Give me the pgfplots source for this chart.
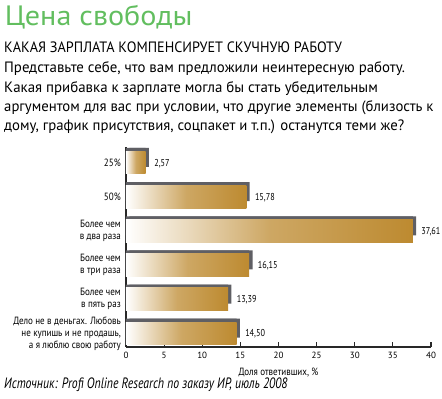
\documentclass[border=0pt]{standalone}
\usepackage{fontspec}
\setmainfont{PT Sans}
\usepackage{graphicx}
\usepackage{pgfplots}
\usepackage{pgfplotstable}
\pgfplotsset{compat=1.18}
\definecolor{gold}{RGB}{189,138,48}
\definecolor{shadowgrey}{RGB}{95,95,100}
\definecolor{titlegreen}{RGB}{98,190,95}
\definecolor{axisgrey}{RGB}{40,40,40}
\newcommand\cond[2][0.86]{\scalebox{#1}[1]{#2}}

\pgfplotstableread{
pos value
5 2.57
4 15.78
3 37.61
2 16.15
1 13.39
0 14.50
}\datatable

\begin{document}
\begin{tikzpicture}
\node[anchor=base west, inner sep=0, text=titlegreen, font=\fontsize{28}{28}\selectfont] at (4.7pt,373pt) {\resizebox{187.6pt}{\height}{Цена свободы}};
\node[anchor=base west, inner sep=0, font=\fontsize{15}{15}\selectfont] at (4pt,346.7pt) {\resizebox{337.7pt}{\height}{КАКАЯ ЗАРПЛАТА КОМПЕНСИРУЕТ СКУЧНУЮ РАБОТУ}};
\node[anchor=base west, inner sep=0, font=\fontsize{15}{15}\selectfont] at (4pt,326.7pt) {\resizebox{400.7pt}{\height}{Представьте себе, что вам предложили неинтересную работу.}};
\node[anchor=base west, inner sep=0, font=\fontsize{15}{15}\selectfont] at (4pt,306.7pt) {\resizebox{373.7pt}{\height}{Какая прибавка к зарплате могла бы стать убедительным}};
\node[anchor=base west, inner sep=0, font=\fontsize{15}{15}\selectfont] at (4pt,287.3pt) {\resizebox{429.3pt}{\height}{аргументом для вас при условии, что другие элементы (близость к}};
\node[anchor=base west, inner sep=0, font=\fontsize{15}{15}\selectfont] at (4pt,268pt) {\resizebox{400pt}{\height}{дому, график присутствия, соцпакет и т.п.) останутся теми же?}};
\node[anchor=base west, inner sep=0, font=\itshape\fontsize{15}{15}\selectfont] at (4pt,10.7pt) {\resizebox{283.3pt}{\height}{Источник: Profi Online Research по заказу ИР, июль 2008}};
\node[anchor=base, inner sep=0, font=\fontsize{10.5}{12}\selectfont] at (278.5pt,23.3pt) {\cond{Доля ответивших, \%}};

\begin{axis}[
  name=ax,
  at={(126pt,52pt)}, anchor=south west,
  scale only axis, width=305pt, height=200pt,
  xmin=0, xmax=40, ymin=-0.40, ymax=5.46,
  axis x line*=bottom, axis y line*=left,
  axis line style={line width=1.3pt, axisgrey},
  xtick={0,5,...,40},
  tick align=inside, major tick length=5pt,
  x tick style={line width=1.1pt, axisgrey},
  y tick style={draw=none},
  ytick={0,1,2,3,4,5},
  yticklabels={{\cond{Дело не в деньгах. Любовь}\\\cond{не купишь и не продашь,}\\\cond{а я люблю свою работу}},{\cond{Более чем}\\\cond{в пять раз}},{\cond{Более чем}\\\cond{в три раза}},{\cond{Более чем}\\\cond{в два раза}},{\cond{50\%}},{\cond{25\%}}},
  yticklabel style={align=right, font=\fontsize{10.5}{12}\selectfont, inner sep=0pt, xshift=-5pt},
  xticklabel style={font=\fontsize{9}{11}\selectfont, inner sep=0pt, yshift=-5pt},
  /pgf/number format/assume math mode=true,
  clip=false,
]
\addplot[xbar, bar width=19pt, fill=shadowgrey, draw=none, yshift=5.2pt] table[x=value, y=pos] {\datatable};
\addplot[xbar, bar width=19pt, fill=shadowgrey, draw=none, xshift=3.4pt, yshift=5.2pt] table[x=value, y=pos] {\datatable};
\addplot[xbar, bar width=22.5pt, draw=none, left color=white, right color=gold, middle color=gold!75!white] coordinates {(2.57,5)};
\addplot[xbar, bar width=22.5pt, draw=none, left color=white, right color=gold, middle color=gold!75!white] coordinates {(15.78,4)};
\addplot[xbar, bar width=22.5pt, draw=none, left color=white, right color=gold, middle color=gold!75!white] coordinates {(37.61,3)};
\addplot[xbar, bar width=22.5pt, draw=none, left color=white, right color=gold, middle color=gold!75!white] coordinates {(16.15,2)};
\addplot[xbar, bar width=22.5pt, draw=none, left color=white, right color=gold, middle color=gold!75!white] coordinates {(13.39,1)};
\addplot[xbar, bar width=22.5pt, draw=none, left color=white, right color=gold, middle color=gold!75!white] coordinates {(14.50,0)};
\addplot[draw=none, mark=none, point meta=x,
  nodes near coords={\cond[0.82]{\pgfmathprintnumber{\pgfplotspointmeta}}},
  nodes near coords style={anchor=base west, inner sep=0pt, xshift=8.5pt, yshift=-3.5pt, text=black, font=\fontsize{10}{10}\selectfont,
    /pgf/number format/.cd, fixed, fixed zerofill, precision=2, use comma, assume math mode=true}]
  table[x=value, y=pos] {\datatable};
\end{axis}
\pgfresetboundingbox
\path[use as bounding box] (0pt,0pt) rectangle (442pt,399pt);
\end{tikzpicture}
\end{document}
